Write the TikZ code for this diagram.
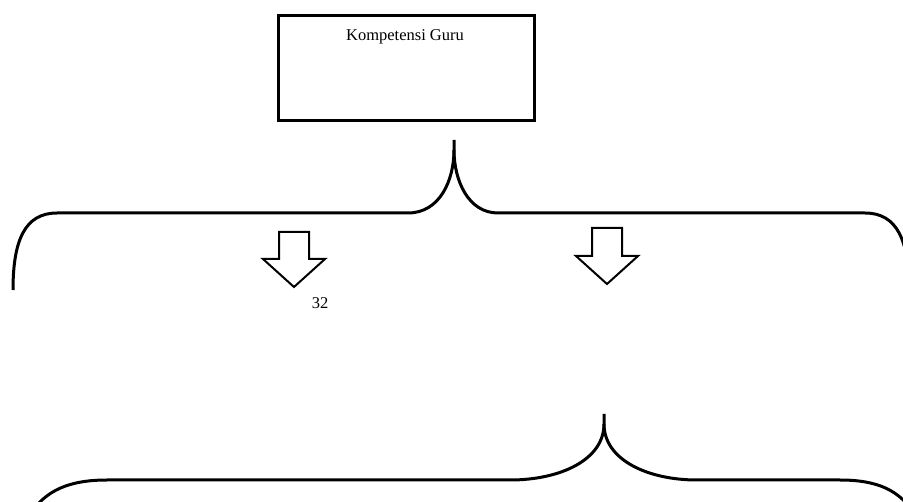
\documentclass[tikz,border=0pt]{standalone}
\usepackage{fontspec}
\setmainfont{Liberation Serif}
\begin{document}
\begin{tikzpicture}[x=1pt,y=-1pt,
  brace/.style={line width=3pt,line cap=butt},
  hollow/.style={draw,line width=2pt,fill=white,line join=miter},
  boxstyle/.style={draw,line width=3pt,minimum width=256pt,minimum height=105pt,inner sep=0pt},
  label/.style={font=\fontsize{16.5}{20}\selectfont,anchor=base,inner sep=0pt}]
\useasboundingbox (0,0) rectangle (903,502);
\node[boxstyle,anchor=north west] (box) at (277,14) {};
\node[label] (title) at (405,41) {Kompetensi Guru};
% top brace
\draw[brace] (13,290) .. controls (13,240) and (25,213) .. (57,213) -- (408,213)
  .. controls (440,213) and (454,180) .. (454,150) -- (454,140);
\draw[brace] (454,150) .. controls (454,180) and (468,213) .. (498,213) -- (865,213)
  .. controls (897,213) and (909,240) .. (909,290);
% arrows
\draw[hollow] (279,232) -- (309,232) -- (309,259) -- (325,259) -- (294,287) -- (263,259) -- (279,259) -- cycle;
\draw[hollow] (592,228) -- (622,228) -- (622,256) -- (638,256) -- (607,284) -- (576,256) -- (592,256) -- cycle;
% page number
\node[label] (pagenum) at (320,309) {32};
% bottom brace
\draw[brace] (30,515) .. controls (45,490) and (70,480) .. (107,480) -- (510,480)
  .. controls (560,480) and (604,460) .. (604,424) -- (604,414);
\draw[brace] (604,424) .. controls (604,460) and (648,480) .. (697,480) -- (840,480)
  .. controls (877,480) and (900,490) .. (915,515);
\end{tikzpicture}
\end{document}
